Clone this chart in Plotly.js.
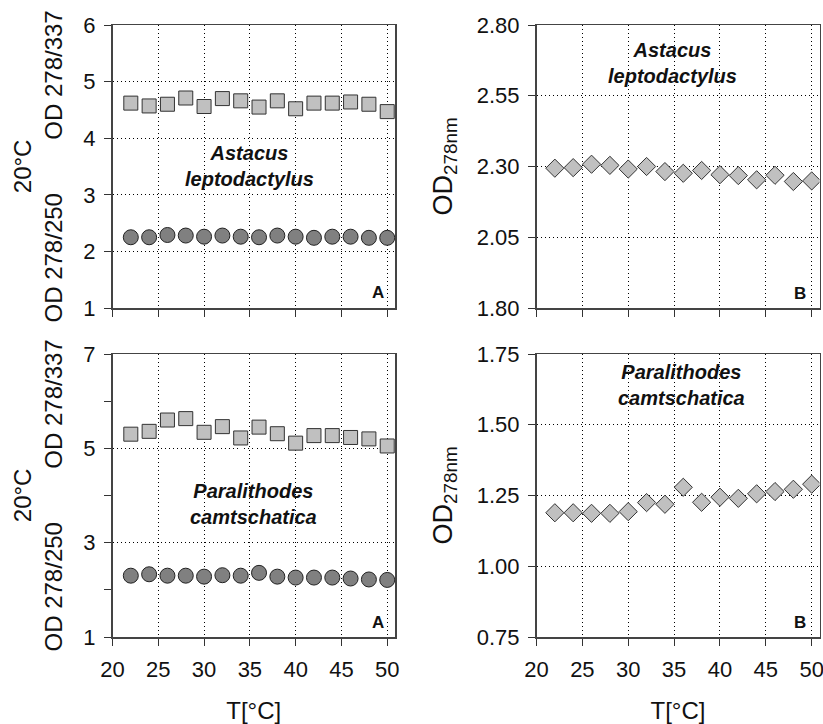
<!DOCTYPE html>
<html><head><meta charset="utf-8">
<script src="https://cdn.plot.ly/plotly-3.0.1.min.js"></script>
<style>body{margin:0;background:#fff}</style>
</head><body>
<div id="chart" style="width:823px;height:724px"></div>
<script>
// Temperatures (x) shared by all panels
const temps = [22, 24, 26, 28, 30, 32, 34, 36, 38, 40, 42, 44, 46, 48, 50];

// Panel A (top) – Astacus leptodactylus
const astacusOD278_337 = [4.62, 4.57, 4.60, 4.71, 4.56, 4.70, 4.66, 4.55, 4.66, 4.52, 4.62, 4.62, 4.64, 4.60, 4.47];
const astacusOD278_250 = [2.25, 2.25, 2.29, 2.28, 2.26, 2.28, 2.26, 2.25, 2.28, 2.26, 2.24, 2.26, 2.26, 2.24, 2.24];
// Panel B (top) – Astacus leptodactylus
const astacusOD278 = [2.294, 2.296, 2.308, 2.304, 2.291, 2.300, 2.282, 2.276, 2.286, 2.271, 2.268, 2.253, 2.269, 2.247, 2.249];

// Panel A (bottom) – Paralithodes camtschatica
const paraOD278_337 = [5.30, 5.36, 5.60, 5.63, 5.34, 5.46, 5.22, 5.45, 5.31, 5.11, 5.27, 5.27, 5.23, 5.20, 5.05];
const paraOD278_250 = [2.30, 2.33, 2.30, 2.30, 2.28, 2.31, 2.30, 2.36, 2.28, 2.26, 2.26, 2.26, 2.24, 2.22, 2.21];
// Panel B (bottom) – Paralithodes camtschatica
const paraOD278 = [1.189, 1.189, 1.187, 1.187, 1.193, 1.225, 1.219, 1.279, 1.226, 1.244, 1.240, 1.256, 1.264, 1.272, 1.290];

const xTickVals = [20, 25, 30, 35, 40, 45, 50];
const species1 = ['Astacus', 'leptodactylus'];
const species2 = ['Paralithodes', 'camtschatica'];

const FONT = 'Liberation Sans, Arial, sans-serif';
const sqMarker = {symbol: 'square', size: 14, color: '#c0c0c0', line: {color: '#333', width: 1}};
const ciMarker = {symbol: 'circle', size: 15, color: '#808080', line: {color: '#222', width: 1}};
const diMarker = {symbol: 'diamond', size: 14, color: '#c0c0c0', line: {color: '#333', width: 1}};

const traces = [
  {x: temps, y: astacusOD278_337, xaxis: 'x', yaxis: 'y', mode: 'markers', marker: sqMarker},
  {x: temps, y: astacusOD278_250, xaxis: 'x', yaxis: 'y', mode: 'markers', marker: ciMarker},
  {x: temps, y: astacusOD278, xaxis: 'x2', yaxis: 'y2', mode: 'markers', marker: diMarker},
  {x: temps, y: paraOD278_337, xaxis: 'x3', yaxis: 'y3', mode: 'markers', marker: sqMarker},
  {x: temps, y: paraOD278_250, xaxis: 'x3', yaxis: 'y3', mode: 'markers', marker: ciMarker},
  {x: temps, y: paraOD278, xaxis: 'x4', yaxis: 'y4', mode: 'markers', marker: diMarker}
];

const W = 823, H = 724;
const dA = [112.5 / W, 395 / W], dB = [536.5 / W, 819.5 / W];
const dTop = [1 - 308 / H, 1 - 25 / H], dBot = [1 - 637 / H, 1 - 354 / H];

function xAxis(domain, anchor, labels) {
  const ax = {
    domain: domain, anchor: anchor, range: [20, 50.85],
    tickmode: 'array', tickvals: xTickVals, showticklabels: labels,
    ticks: 'outside', ticklen: 7, tickwidth: 1, tickcolor: '#333',
    showline: true, linecolor: '#444', linewidth: 1.5, mirror: true,
    showgrid: true, gridcolor: '#000', gridwidth: 1, griddash: '1px,3px',
    zeroline: false, tickfont: {size: 22, color: '#111'},
    ticklabelstandoff: 5, ticklabeloverflow: 'allow'
  };
  if (labels) ax.title = {text: 'T[°C]', font: {size: 24, color: '#111'}, standoff: 22};
  return ax;
}
function yAxis(domain, anchor, range, dtick, fmt, extra) {
  return Object.assign({
    domain: domain, anchor: anchor, range: range, dtick: dtick, tick0: range[0],
    tickformat: fmt, ticks: 'outside', ticklen: 7, tickwidth: 1, tickcolor: '#333',
    showline: true, linecolor: '#444', linewidth: 1.5, mirror: true,
    showgrid: true, gridcolor: '#000', gridwidth: 1, griddash: '1px,3px',
    zeroline: false, tickfont: {size: 22, color: '#111'}, ticklabelstandoff: 4,
    ticklabeloverflow: 'allow'
  }, extra || {});
}

function species(names, x, y, xref, yref) {
  return {text: '<b><i>' + names[0] + '</i></b><br><b><i>' + names[1] + '</i></b>',
    x: x, y: y, xref: xref, yref: yref, showarrow: false, xanchor: 'center', yanchor: 'middle',
    font: {size: 20, color: '#111', family: FONT}};
}
function letter(t, x, y, xref, yref) {
  return {text: '<b>' + t + '</b>', x: x, y: y, xref: xref, yref: yref, showarrow: false,
    xanchor: 'center', yanchor: 'middle', font: {size: 17, color: '#111', family: FONT}};
}
const nb = '\u00A0'.repeat(8);
function leftTitle(yc) {
  return {text: '20°C<br>OD 278/250' + nb + 'OD 278/337', textangle: -90,
    x: 37 / W, y: yc, xref: 'paper', yref: 'paper', showarrow: false,
    xanchor: 'center', yanchor: 'middle', font: {size: 24, color: '#111', family: FONT}};
}
function rightTitle(yc) {
  return {text: 'OD<sub>278nm</sub>', textangle: -90,
    x: 444 / W, y: yc, xref: 'paper', yref: 'paper', showarrow: false,
    xanchor: 'center', yanchor: 'middle', font: {size: 27, color: '#111', family: FONT}};
}

const layout = {
  width: W, height: H, margin: {l: 0, r: 0, t: 0, b: 0},
  paper_bgcolor: '#fff', plot_bgcolor: '#fff', showlegend: false,
  font: {family: FONT, color: '#111'},
  xaxis: xAxis(dA, 'y', false),
  yaxis: yAxis(dTop, 'x', [1, 6], 1, 'd'),
  xaxis2: xAxis(dB, 'y2', false),
  yaxis2: yAxis(dTop, 'x2', [1.8, 2.8], 0.25, '.2f'),
  xaxis3: xAxis(dA, 'y3', true),
  yaxis3: yAxis(dBot, 'x3', [1, 7], 2, 'd', {minor: {dtick: 1, tick0: 1, ticks: 'outside', ticklen: 7, tickcolor: '#333', showgrid: false}}),
  xaxis4: xAxis(dB, 'y4', true),
  yaxis4: yAxis(dBot, 'x4', [0.75, 1.75], 0.25, '.2f'),
  annotations: [
    species(species1, 35, 3.51, 'x', 'y'),
    species(species1, 34.8, 2.667, 'x2', 'y2'),
    species(species2, 35.4, 3.82, 'x3', 'y3'),
    species(species2, 35.85, 1.642, 'x4', 'y4'),
    letter('A', 49.0, 1.28, 'x', 'y'),
    letter('B', 48.7, 1.853, 'x2', 'y2'),
    letter('A', 49.0, 1.30, 'x3', 'y3'),
    letter('B', 48.7, 0.80, 'x4', 'y4'),
    leftTitle((dTop[0] + dTop[1]) / 2),
    leftTitle((dBot[0] + dBot[1]) / 2),
    rightTitle((dTop[0] + dTop[1]) / 2),
    rightTitle((dBot[0] + dBot[1]) / 2)
  ]
};

Plotly.newPlot('chart', traces, layout, {displayModeBar: false, staticPlot: true});
</script>
</body></html>
